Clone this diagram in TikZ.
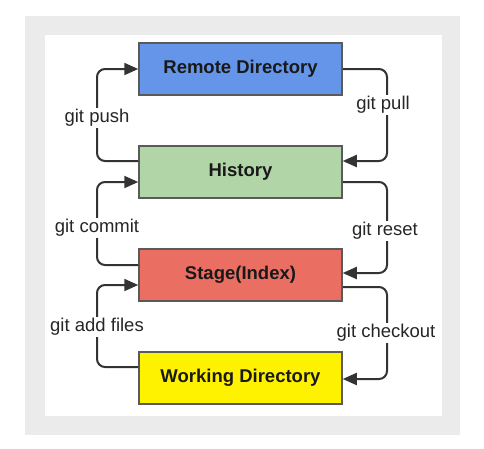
\documentclass[tikz,border=0pt]{standalone}
\usepackage{fontspec}
\setmainfont{Liberation Sans}
\usetikzlibrary{arrows.meta}
\definecolor{framegrey}{HTML}{EBEBEB}
\definecolor{remoteblue}{HTML}{6495E8}
\definecolor{histgreen}{HTML}{B2D5A8}
\definecolor{stagered}{HTML}{EA6E62}
\definecolor{workyellow}{HTML}{FFF200}
\definecolor{linegrey}{HTML}{333333}
\definecolor{bordergrey}{HTML}{5A5A5A}
\tikzset{
  box/.style={draw=bordergrey, line width=1.5pt, minimum width=203pt, minimum height=52pt,
    inner sep=0pt, font=\fontsize{18.5}{20}\selectfont\bfseries, text=black!90},
  conn/.style={draw=linegrey, line width=2pt, rounded corners=8pt,
    -{Triangle[length=14pt,width=12pt]}},
  lbl/.style={fill=white, inner sep=1.5pt, font=\fontsize{18.5}{20}\selectfont, text=black!85}
}
\begin{document}
\begin{tikzpicture}[x=1pt,y=-1pt]
\useasboundingbox (0,0) rectangle (484,448);
\fill[white] (0,0) rectangle (484,448);
\fill[framegrey] (25,16) rectangle (460,435);
\fill[white] (45,35) rectangle (442,416);

\node[box, fill=remoteblue] (remote) at (240.5,69) {Remote Directory};
\node[box, fill=histgreen] (hist) at (240.5,172) {History};
\node[box, fill=stagered] (stage) at (240.5,275) {Stage(Index)};
\node[box, fill=workyellow] (work) at (240.5,378) {Working Directory};

\coordinate (L) at (97,0);
\coordinate (R) at (387,0);

% left side
\draw[conn] (hist.west |- 0,161) -| (L |- remote.center) -- (remote.west);
\draw[conn] (stage.west |- 0,265) -| (L |- 0,182) -- (hist.west |- 0,182);
\draw[conn] (work.west |- 0,367) -| (L |- 0,285) -- (stage.west |- 0,285);

% right side
\draw[conn] (remote.east) -| (R |- 0,161) -- (hist.east |- 0,161);
\draw[conn] (hist.east |- 0,182) -| (R |- 0,273) -- (stage.east |- 0,273);
\draw[conn] (stage.east |- 0,287) -| (R |- 0,379) -- (work.east |- 0,379);

% labels
\node[lbl] (lpush) at (97,118) {git push};
\node[lbl] (lpull) at (383,105) {git pull};
\node[lbl] (lcommit) at (97,228) {git commit};
\node[lbl] (lreset) at (385,231) {git reset};
\node[lbl] (ladd) at (97,327) {git add files};
\node[lbl] (lcheck) at (386,333) {git checkout};
\end{tikzpicture}
\end{document}
